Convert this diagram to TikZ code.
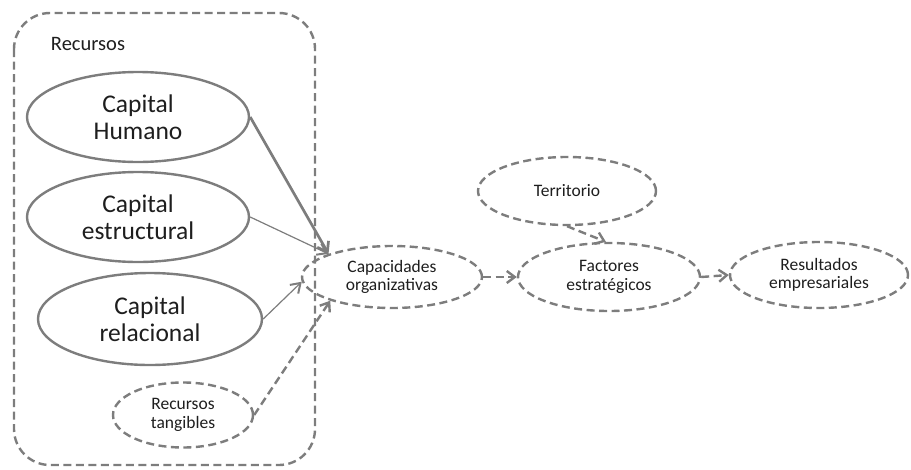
\documentclass[tikz,border=0pt]{standalone}
\usepackage{fontspec}
\setmainfont{Carlito}
\usetikzlibrary{shapes.geometric,arrows.meta}
\definecolor{lg}{RGB}{125,125,125}
\definecolor{tx}{RGB}{30,30,30}
\tikzset{
  solidell/.style={ellipse, draw=lg, line width=2.4pt, inner sep=0pt, align=center, text=tx,
     font=\fontsize{25.5}{27.5}\selectfont},
  dashell/.style={ellipse, draw=lg, line width=2.4pt, dash pattern=on 8pt off 4.5pt, inner sep=0pt,
     align=center, text=tx, font=\fontsize{17.5}{18.5}\selectfont},
  thickarr/.style={draw=lg, line width=2.7pt, -{Straight Barb[length=9pt,width=13pt]}},
  thinarr/.style={draw=lg, line width=1.2pt, -{Straight Barb[length=9pt,width=12pt,line width=2pt]}},
  dasharr/.style={draw=lg, line width=2.4pt, dash pattern=on 8pt off 4.5pt, -{Straight Barb[length=8pt,width=12pt]}},
}
\begin{document}
\begin{tikzpicture}[x=1pt,y=-1pt]
\useasboundingbox (0,0) rectangle (911,469);
% container
\draw[lg, line width=2.4pt, dash pattern=on 8pt off 4.5pt, rounded corners=36pt] (14,13) rectangle (315,465);
\node[text=tx, font=\fontsize{20.5}{22}\selectfont] (reclbl) at (88,44) {Recursos};
% resources
\node[solidell, minimum width=222pt, minimum height=90pt] (hum) at (138,117) {Capital\\Humano};
\node[solidell, minimum width=222pt, minimum height=90pt] (est) at (138,217) {Capital\\estructural};
\node[solidell, minimum width=224pt, minimum height=92pt] (rel) at (150,319) {Capital\\relacional};
\node[dashell, minimum width=140pt, minimum height=65pt] (tan) at (183,415) {Recursos\\tangibles};
% right side
\node[dashell, minimum width=180pt, minimum height=62pt] (cap) at (392,277) {Capacidades\\organizativas};
\node[dashell, minimum width=178pt, minimum height=68pt] (ter) at (567,191) {Territorio};
\node[dashell, minimum width=182pt, minimum height=68pt] (fac) at (609,277) {Factores\\estratégicos};
\node[dashell, minimum width=178pt, minimum height=66pt] (res) at (819,275) {Resultados\\empresariales};
% connectors
\draw[thickarr] (hum.east) -- (cap.160);
\draw[thinarr] (est.east) -- (cap.160);
\draw[thinarr] (rel.east) -- (cap.183);
\draw[dasharr] (tan.east) -- (cap.201);
\draw[dasharr] (cap.east) -- (fac.west);
\draw[dasharr] (ter.south) -- (fac.95);
\draw[dasharr] (fac.east) -- (res.west);
\end{tikzpicture}
\end{document}
